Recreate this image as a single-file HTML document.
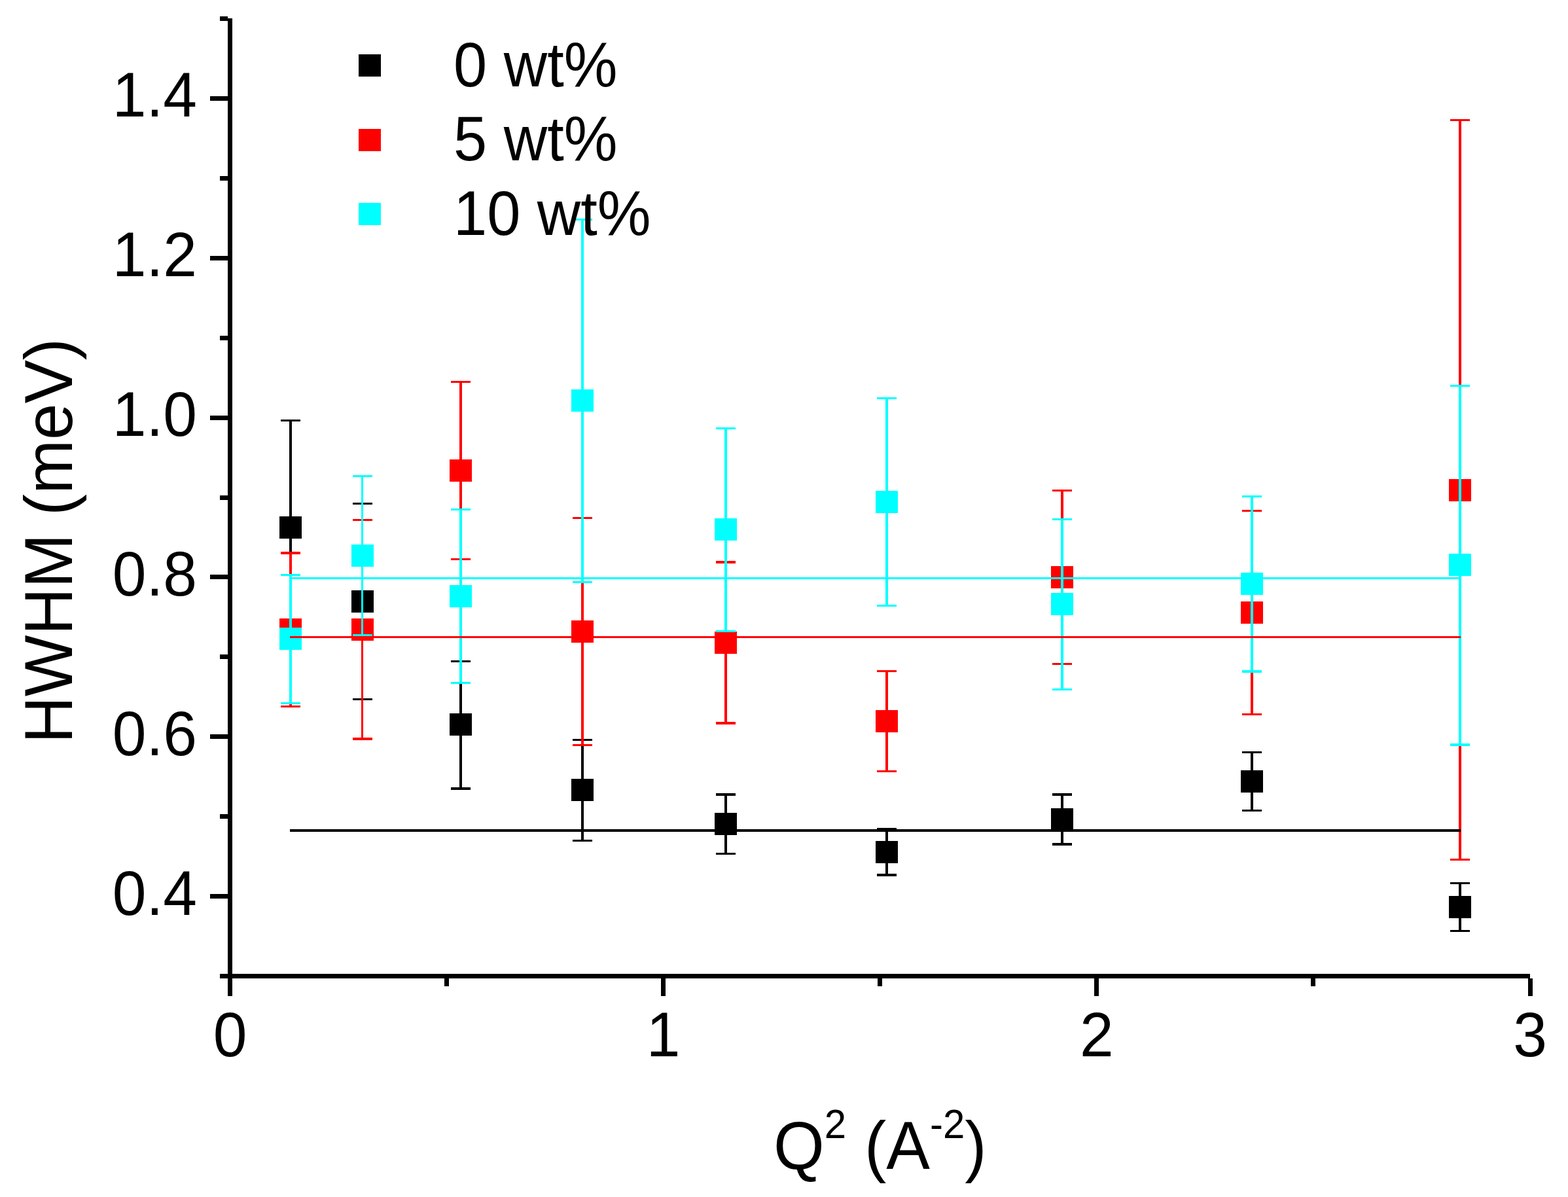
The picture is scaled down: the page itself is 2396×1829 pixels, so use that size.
<!DOCTYPE html>
<html><head><meta charset="utf-8"><title>HWHM vs Q2</title>
<style>html,body{margin:0;padding:0;background:#fff;} body{width:2396px;height:1829px;overflow:hidden;} svg{display:block;}</style>
</head><body>
<svg width="2396" height="1829" viewBox="0 0 2396 1829" shape-rendering="crispEdges" font-family='"Liberation Sans", Arial, sans-serif' fill="#000"><rect x="442.25" y="642.50" width="3.50" height="326.00" fill="#000000"/>
<rect x="429.00" y="640.75" width="30.00" height="3.50" fill="#000000"/>
<rect x="429.00" y="966.75" width="30.00" height="3.50" fill="#000000"/>
<rect x="427.00" y="788.50" width="34.00" height="34.00" fill="#000000"/>
<rect x="551.75" y="769.50" width="3.50" height="299.00" fill="#000000"/>
<rect x="538.50" y="767.75" width="30.00" height="3.50" fill="#000000"/>
<rect x="538.50" y="1066.75" width="30.00" height="3.50" fill="#000000"/>
<rect x="536.50" y="902.00" width="34.00" height="34.00" fill="#000000"/>
<rect x="702.25" y="1010.40" width="3.50" height="194.60" fill="#000000"/>
<rect x="689.00" y="1008.65" width="30.00" height="3.50" fill="#000000"/>
<rect x="689.00" y="1203.25" width="30.00" height="3.50" fill="#000000"/>
<rect x="687.00" y="1090.00" width="34.00" height="34.00" fill="#000000"/>
<rect x="888.25" y="1130.50" width="3.50" height="154.00" fill="#000000"/>
<rect x="875.00" y="1128.75" width="30.00" height="3.50" fill="#000000"/>
<rect x="875.00" y="1282.75" width="30.00" height="3.50" fill="#000000"/>
<rect x="873.00" y="1190.00" width="34.00" height="34.00" fill="#000000"/>
<rect x="1107.25" y="1214.00" width="3.50" height="90.50" fill="#000000"/>
<rect x="1094.00" y="1212.25" width="30.00" height="3.50" fill="#000000"/>
<rect x="1094.00" y="1302.75" width="30.00" height="3.50" fill="#000000"/>
<rect x="1092.00" y="1242.00" width="34.00" height="34.00" fill="#000000"/>
<rect x="1353.25" y="1266.50" width="3.50" height="70.50" fill="#000000"/>
<rect x="1340.00" y="1264.75" width="30.00" height="3.50" fill="#000000"/>
<rect x="1340.00" y="1335.25" width="30.00" height="3.50" fill="#000000"/>
<rect x="1338.00" y="1285.00" width="34.00" height="34.00" fill="#000000"/>
<rect x="1621.25" y="1214.00" width="3.50" height="76.00" fill="#000000"/>
<rect x="1608.00" y="1212.25" width="30.00" height="3.50" fill="#000000"/>
<rect x="1608.00" y="1288.25" width="30.00" height="3.50" fill="#000000"/>
<rect x="1606.00" y="1235.00" width="34.00" height="34.00" fill="#000000"/>
<rect x="1911.25" y="1149.50" width="3.50" height="89.00" fill="#000000"/>
<rect x="1898.00" y="1147.75" width="30.00" height="3.50" fill="#000000"/>
<rect x="1898.00" y="1236.75" width="30.00" height="3.50" fill="#000000"/>
<rect x="1896.00" y="1177.00" width="34.00" height="34.00" fill="#000000"/>
<rect x="2229.25" y="1349.50" width="3.50" height="73.00" fill="#000000"/>
<rect x="2216.00" y="1347.75" width="30.00" height="3.50" fill="#000000"/>
<rect x="2216.00" y="1420.75" width="30.00" height="3.50" fill="#000000"/>
<rect x="2214.00" y="1369.00" width="34.00" height="34.00" fill="#000000"/>
<rect x="442.25" y="845.00" width="3.50" height="234.50" fill="#FF0000"/>
<rect x="429.00" y="843.25" width="30.00" height="3.50" fill="#FF0000"/>
<rect x="429.00" y="1077.75" width="30.00" height="3.50" fill="#FF0000"/>
<rect x="427.00" y="945.00" width="34.00" height="34.00" fill="#FF0000"/>
<rect x="551.75" y="794.50" width="3.50" height="334.50" fill="#FF0000"/>
<rect x="538.50" y="792.75" width="30.00" height="3.50" fill="#FF0000"/>
<rect x="538.50" y="1127.25" width="30.00" height="3.50" fill="#FF0000"/>
<rect x="536.50" y="945.00" width="34.00" height="34.00" fill="#FF0000"/>
<rect x="702.25" y="583.50" width="3.50" height="271.00" fill="#FF0000"/>
<rect x="689.00" y="581.75" width="30.00" height="3.50" fill="#FF0000"/>
<rect x="689.00" y="852.75" width="30.00" height="3.50" fill="#FF0000"/>
<rect x="687.00" y="702.00" width="34.00" height="34.00" fill="#FF0000"/>
<rect x="888.25" y="791.50" width="3.50" height="347.00" fill="#FF0000"/>
<rect x="875.00" y="789.75" width="30.00" height="3.50" fill="#FF0000"/>
<rect x="875.00" y="1136.75" width="30.00" height="3.50" fill="#FF0000"/>
<rect x="873.00" y="948.00" width="34.00" height="34.00" fill="#FF0000"/>
<rect x="1107.25" y="859.00" width="3.50" height="246.00" fill="#FF0000"/>
<rect x="1094.00" y="857.25" width="30.00" height="3.50" fill="#FF0000"/>
<rect x="1094.00" y="1103.25" width="30.00" height="3.50" fill="#FF0000"/>
<rect x="1092.00" y="965.00" width="34.00" height="34.00" fill="#FF0000"/>
<rect x="1353.25" y="1025.60" width="3.50" height="152.90" fill="#FF0000"/>
<rect x="1340.00" y="1023.85" width="30.00" height="3.50" fill="#FF0000"/>
<rect x="1340.00" y="1176.75" width="30.00" height="3.50" fill="#FF0000"/>
<rect x="1338.00" y="1085.00" width="34.00" height="34.00" fill="#FF0000"/>
<rect x="1621.25" y="749.40" width="3.50" height="265.00" fill="#FF0000"/>
<rect x="1608.00" y="747.65" width="30.00" height="3.50" fill="#FF0000"/>
<rect x="1608.00" y="1012.65" width="30.00" height="3.50" fill="#FF0000"/>
<rect x="1606.00" y="865.00" width="34.00" height="34.00" fill="#FF0000"/>
<rect x="1911.25" y="780.30" width="3.50" height="311.20" fill="#FF0000"/>
<rect x="1898.00" y="778.55" width="30.00" height="3.50" fill="#FF0000"/>
<rect x="1898.00" y="1089.75" width="30.00" height="3.50" fill="#FF0000"/>
<rect x="1896.00" y="919.00" width="34.00" height="34.00" fill="#FF0000"/>
<rect x="2229.25" y="183.50" width="3.50" height="1130.00" fill="#FF0000"/>
<rect x="2216.00" y="181.75" width="30.00" height="3.50" fill="#FF0000"/>
<rect x="2216.00" y="1311.75" width="30.00" height="3.50" fill="#FF0000"/>
<rect x="2214.00" y="732.00" width="34.00" height="34.00" fill="#FF0000"/>
<rect x="442.25" y="878.50" width="3.50" height="196.00" fill="#00FFFF"/>
<rect x="429.00" y="876.75" width="30.00" height="3.50" fill="#00FFFF"/>
<rect x="429.00" y="1072.75" width="30.00" height="3.50" fill="#00FFFF"/>
<rect x="427.00" y="959.00" width="34.00" height="34.00" fill="#00FFFF"/>
<rect x="551.75" y="727.50" width="3.50" height="243.00" fill="#00FFFF"/>
<rect x="538.50" y="725.75" width="30.00" height="3.50" fill="#00FFFF"/>
<rect x="538.50" y="968.75" width="30.00" height="3.50" fill="#00FFFF"/>
<rect x="536.50" y="832.00" width="34.00" height="34.00" fill="#00FFFF"/>
<rect x="702.25" y="778.50" width="3.50" height="264.90" fill="#00FFFF"/>
<rect x="689.00" y="776.75" width="30.00" height="3.50" fill="#00FFFF"/>
<rect x="689.00" y="1041.65" width="30.00" height="3.50" fill="#00FFFF"/>
<rect x="687.00" y="893.50" width="34.00" height="34.00" fill="#00FFFF"/>
<rect x="888.25" y="335.50" width="3.50" height="553.90" fill="#00FFFF"/>
<rect x="875.00" y="333.75" width="30.00" height="3.50" fill="#00FFFF"/>
<rect x="875.00" y="887.65" width="30.00" height="3.50" fill="#00FFFF"/>
<rect x="873.00" y="595.00" width="34.00" height="34.00" fill="#00FFFF"/>
<rect x="1107.25" y="654.50" width="3.50" height="309.90" fill="#00FFFF"/>
<rect x="1094.00" y="652.75" width="30.00" height="3.50" fill="#00FFFF"/>
<rect x="1094.00" y="962.65" width="30.00" height="3.50" fill="#00FFFF"/>
<rect x="1092.00" y="792.00" width="34.00" height="34.00" fill="#00FFFF"/>
<rect x="1353.25" y="608.30" width="3.50" height="317.10" fill="#00FFFF"/>
<rect x="1340.00" y="606.55" width="30.00" height="3.50" fill="#00FFFF"/>
<rect x="1340.00" y="923.65" width="30.00" height="3.50" fill="#00FFFF"/>
<rect x="1338.00" y="750.00" width="34.00" height="34.00" fill="#00FFFF"/>
<rect x="1621.25" y="793.40" width="3.50" height="260.00" fill="#00FFFF"/>
<rect x="1608.00" y="791.65" width="30.00" height="3.50" fill="#00FFFF"/>
<rect x="1608.00" y="1051.65" width="30.00" height="3.50" fill="#00FFFF"/>
<rect x="1606.00" y="906.00" width="34.00" height="34.00" fill="#00FFFF"/>
<rect x="1911.25" y="758.30" width="3.50" height="267.50" fill="#00FFFF"/>
<rect x="1898.00" y="756.55" width="30.00" height="3.50" fill="#00FFFF"/>
<rect x="1898.00" y="1024.05" width="30.00" height="3.50" fill="#00FFFF"/>
<rect x="1896.00" y="875.00" width="34.00" height="34.00" fill="#00FFFF"/>
<rect x="2229.25" y="589.30" width="3.50" height="548.70" fill="#00FFFF"/>
<rect x="2216.00" y="587.55" width="30.00" height="3.50" fill="#00FFFF"/>
<rect x="2216.00" y="1136.25" width="30.00" height="3.50" fill="#00FFFF"/>
<rect x="2214.00" y="846.00" width="34.00" height="34.00" fill="#00FFFF"/>
<rect x="443.00" y="1267.00" width="1789.00" height="4.00" fill="#000000"/>
<rect x="443.00" y="972.00" width="1789.00" height="3.00" fill="#FF0000"/>
<rect x="444.00" y="882.00" width="1787.00" height="3.00" fill="#00FFFF"/>
<rect x="348.00" y="28.00" width="7.00" height="1467.00" fill="#000"/>
<rect x="348.00" y="1488.00" width="1990.00" height="7.00" fill="#000"/>
<rect x="336.00" y="1488.00" width="12.00" height="7.00" fill="#000"/>
<rect x="321.00" y="1366.09" width="27.00" height="7.00" fill="#000"/>
<text transform="translate(301.00,1397.59) scale(1,1.041)" font-size="93" text-anchor="end" >0.4</text>
<rect x="336.00" y="1244.17" width="12.00" height="7.00" fill="#000"/>
<rect x="321.00" y="1122.25" width="27.00" height="7.00" fill="#000"/>
<text transform="translate(301.00,1153.75) scale(1,1.041)" font-size="93" text-anchor="end" >0.6</text>
<rect x="336.00" y="1000.34" width="12.00" height="7.00" fill="#000"/>
<rect x="321.00" y="878.42" width="27.00" height="7.00" fill="#000"/>
<text transform="translate(301.00,909.92) scale(1,1.041)" font-size="93" text-anchor="end" >0.8</text>
<rect x="336.00" y="756.50" width="12.00" height="7.00" fill="#000"/>
<rect x="321.00" y="634.59" width="27.00" height="7.00" fill="#000"/>
<text transform="translate(301.00,666.09) scale(1,1.041)" font-size="93" text-anchor="end" >1.0</text>
<rect x="336.00" y="512.67" width="12.00" height="7.00" fill="#000"/>
<rect x="321.00" y="390.75" width="27.00" height="7.00" fill="#000"/>
<text transform="translate(301.00,422.25) scale(1,1.041)" font-size="93" text-anchor="end" >1.2</text>
<rect x="336.00" y="268.83" width="12.00" height="7.00" fill="#000"/>
<rect x="321.00" y="146.92" width="27.00" height="7.00" fill="#000"/>
<text transform="translate(301.00,178.42) scale(1,1.041)" font-size="93" text-anchor="end" >1.4</text>
<rect x="336.00" y="25.00" width="12.00" height="7.00" fill="#000"/>
<rect x="348.00" y="1495.00" width="7.00" height="27.00" fill="#000"/>
<text transform="translate(351.50,1614.00) scale(1,1.041)" font-size="93" text-anchor="middle" >0</text>
<rect x="679.09" y="1495.00" width="7.00" height="12.00" fill="#000"/>
<rect x="1010.17" y="1495.00" width="7.00" height="27.00" fill="#000"/>
<text transform="translate(1013.67,1614.00) scale(1,1.041)" font-size="93" text-anchor="middle" >1</text>
<rect x="1341.25" y="1495.00" width="7.00" height="12.00" fill="#000"/>
<rect x="1672.34" y="1495.00" width="7.00" height="27.00" fill="#000"/>
<text transform="translate(1675.84,1614.00) scale(1,1.041)" font-size="93" text-anchor="middle" >2</text>
<rect x="2003.42" y="1495.00" width="7.00" height="12.00" fill="#000"/>
<rect x="2334.51" y="1495.00" width="7.00" height="27.00" fill="#000"/>
<text transform="translate(2338.01,1614.00) scale(1,1.041)" font-size="93" text-anchor="middle" >3</text>
<text transform="translate(110,1136) rotate(-90) scale(1,1.041)" font-size="99.5">HWHM (meV)</text>
<text transform="translate(1182,1786) scale(1,1.041)" font-size="100">Q<tspan font-size="60" dy="-45.5">2</tspan><tspan dy="45.5"> (A</tspan><tspan font-size="60" dy="-45.5">-2</tspan><tspan dy="45.5">)</tspan></text>
<rect x="548.00" y="83.00" width="34.00" height="34.00" fill="#000000"/>
<text transform="translate(693.00,131.50) scale(1,1.041)" font-size="92" text-anchor="start" >0 wt%</text>
<rect x="548.00" y="197.00" width="34.00" height="34.00" fill="#FF0000"/>
<text transform="translate(693.00,245.00) scale(1,1.041)" font-size="92" text-anchor="start" >5 wt%</text>
<rect x="548.00" y="310.00" width="34.00" height="34.00" fill="#00FFFF"/>
<text transform="translate(693.00,359.00) scale(1,1.041)" font-size="92" text-anchor="start" >10 wt%</text></svg>
</body></html>
